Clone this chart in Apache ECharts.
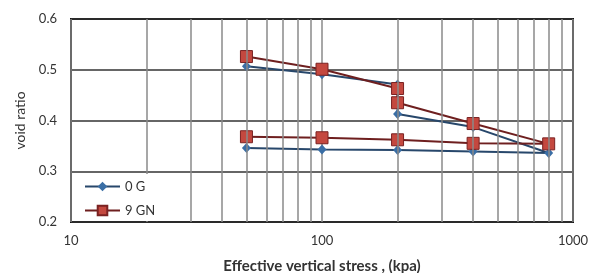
<!DOCTYPE html>
<html lang="en">
<head>
    <meta charset="UTF-8">
    <title>void ratio</title>
    <script src="https://cdnjs.cloudflare.com/ajax/libs/echarts/6.0.0/echarts.min.js"></script>
</head>
<style>
    html, body { margin: 0; padding: 0; background: #fff; }
    #box { width: 602px; height: 273px; }
</style>
<body>
    <div id="box"></div>
    <script>
        // loading 50 -> 800 then unloading back to 50 (200 kPa read twice)
        var stress = [50, 100, 200, 200, 400, 800, 400, 200, 100, 50];
        var void0G = [0.507, 0.491, 0.471, 0.413, 0.387, 0.336, 0.339, 0.342, 0.343, 0.346];
        var void9GN = [0.526, 0.501, 0.463, 0.435, 0.394, 0.354, 0.355, 0.362, 0.366, 0.368];
        var minorX = [20, 30, 40, 50, 60, 70, 80, 90, 200, 300, 400, 500, 600, 700, 800, 900];
        var yTicks = { min: 0.2, max: 0.6, step: 0.1 };

        function pairs(xs, ys) {
            return xs.map(function (x, i) { return [x, ys[i]]; });
        }

        var myChart = echarts.init(document.getElementById('box'));
        var font = 'Lato, "Open Sans", sans-serif';

        var option = {
            animation: false,
            textStyle: { fontFamily: font },
            grid: {
                left: 71, right: 29, top: 19, bottom: 51,
                outerBoundsMode: 'none',
                show: true, borderColor: '#111', borderWidth: 2
            },
            legend: {
                data: ['0 G', '9 GN'],
                orient: 'vertical',
                left: 74, top: 174,
                padding: [6, 10, 4, 10],
                itemGap: 11,
                itemWidth: 35, itemHeight: 12,
                backgroundColor: '#fff',
                z: 20,
                textStyle: { fontSize: 13, color: '#333', fontFamily: font }
            },
            xAxis: {
                type: 'log', logBase: 10, min: 10, max: 1000,
                name: 'Effective vertical stress , (kpa)',
                nameLocation: 'middle', nameGap: 37,
                nameTextStyle: { fontSize: 15, fontWeight: 'bold', color: '#333' },
                axisLine: { show: false }, axisTick: { show: false },
                axisLabel: {
                    fontSize: 13, color: '#333', margin: 12,
                    formatter: function (v) { return String(Math.round(v)); }
                },
                splitLine: { show: true, lineStyle: { color: '#8a8a8a', width: 1.5 } }
            },
            yAxis: {
                type: 'value', min: yTicks.min, max: yTicks.max, interval: yTicks.step,
                name: 'void ratio', nameLocation: 'middle', nameGap: 44,
                nameTextStyle: { fontSize: 14, color: '#333' },
                axisLine: { show: false }, axisTick: { show: false },
                axisLabel: {
                    fontSize: 13, color: '#333', margin: 14,
                    formatter: function (v) { return v.toFixed(1); }
                },
                splitLine: { show: true, lineStyle: { color: '#333', width: 1.5 } }
            },
            series: [
                {
                    name: 'minor', type: 'line', data: [], silent: true,
                    markLine: {
                        silent: true, symbol: 'none', animation: false,
                        label: { show: false },
                        lineStyle: { color: '#8a8a8a', width: 1.5, type: 'solid' },
                        data: minorX.map(function (v) { return { xAxis: v }; })
                    }
                },
                {
                    name: '0 G', type: 'line',
                    data: pairs(stress, void0G),
                    symbol: 'diamond', symbolSize: [9, 10],
                    itemStyle: { color: '#3a6ea5' },
                    lineStyle: { color: '#27476b', width: 2 }
                },
                {
                    name: '9 GN', type: 'line',
                    data: pairs(stress, void9GN),
                    symbol: 'rect', symbolSize: 12,
                    itemStyle: { color: '#c4483f', borderColor: '#7a2222', borderWidth: 1 },
                    lineStyle: { color: '#6e1f1f', width: 2 }
                }
            ]
        };

        option && myChart.setOption(option);
    </script>
</body>
</html>
